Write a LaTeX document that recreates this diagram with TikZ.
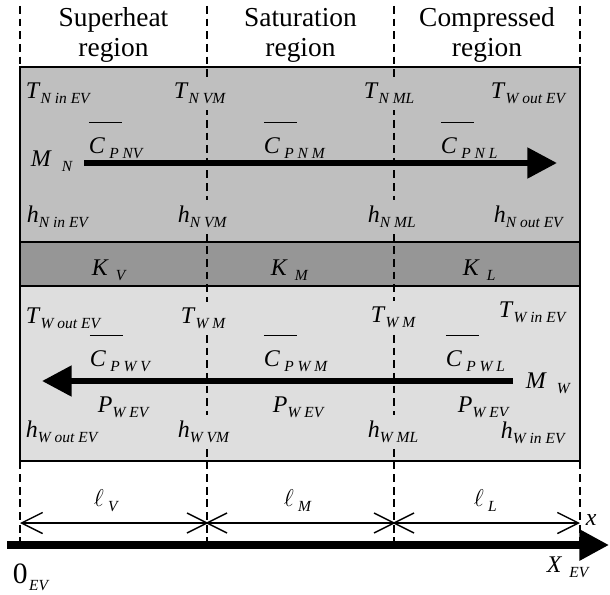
\documentclass[tikz,border=0pt]{standalone}
\usepackage{fontspec}
\setmainfont{Liberation Serif}[ItalicFont={Liberation Serif Italic}]
\usetikzlibrary{arrows.meta}

\definecolor{bandN}{gray}{0.75}
\definecolor{bandK}{gray}{0.59}
\definecolor{bandW}{gray}{0.87}

\begin{document}
\begin{tikzpicture}[x=0.25mm, y=0.25mm,
  lbl/.style={font=\fontsize{17}{17}\selectfont, anchor=base west, inner xsep=0.5pt, inner ysep=4pt},
  lblN/.style={lbl, fill=bandN},
  lblK/.style={lbl, fill=bandK},
  lblW/.style={lbl, fill=bandW},
  hdr/.style={font=\fontsize{19.5}{22}\selectfont, align=center, inner sep=0pt},
  boxline/.style={line width=1.4pt},
  guideline/.style={line width=1pt, dash pattern=on 5.5pt off 3.5pt},
  flowline/.style={line width=4.3pt, -{Triangle[length=21pt,width=21pt]}},
  dimline/.style={line width=1pt, {Straight Barb[length=15pt,width=15pt]}-{Straight Barb[length=15pt,width=15pt]}}]

\useasboundingbox (0,0) rectangle (610,594);

% symbol with lowered subscript: #1=kern, #2=symbol, #3=subscript
\newcommand{\subfont}{\fontsize{11}{11}\selectfont}
\newcommand{\qv}[3][0pt]{\textit{#2}\kern#1\raisebox{-0.25em}{\subfont\textit{#3}}}
\newcommand{\cbar}{\rlap{\raisebox{1.25em}{\rule{1.4em}{1.1pt}}}\textit{C}}

% ── Bands ──
\fill[bandN] (20,527) rectangle (580,352);
\fill[bandK] (20,352) rectangle (580,308);
\fill[bandW] (20,308) rectangle (580,133);

% Region boundaries
\foreach \x in {20,207,394,580} {
  \draw[guideline] (\x,588) -- (\x,46);
}

% ── Region headers ──
\node[hdr, anchor=base] (hdrV) at (113.5,537) {Superheat\\region};
\node[hdr, anchor=base] (hdrM) at (300.5,537) {Saturation\\region};
\node[hdr, anchor=base] (hdrL) at (487,537) {Compressed\\region};

% ── N side (top band) ──
\node[lblN] (tNin) at (25,496) {\qv{T}{N in EV}};
\node[lblN] (tNVM) at (173,496) {\qv{T}{N VM}};
\node[lblN] (tNML) at (363,496) {\qv{T}{N ML}};
\node[lblN] (tWout) at (490,496) {\qv{T}{W out EV}};
\node[lblN] (cNV) at (88,441) {\qv[3pt]{\cbar}{P NV}};
\node[lblN] (cNM) at (263,441) {\qv[3pt]{\cbar}{P N M}};
\node[lblN] (cNL) at (440,441) {\qv[3pt]{\cbar}{P N L}};
\node[lblN] (mN) at (30,428) {\qv[7pt]{M}{N}};
\node[lblN] (hNin) at (26,372) {\qv{h}{N in EV}};
\node[lblN] (hNVM) at (177,372) {\qv{h}{N VM}};
\node[lblN] (hNML) at (367,372) {\qv{h}{N ML}};
\node[lblN] (hNout) at (493,372) {\qv{h}{N out EV}};

% ── Wall band ──
\node[lblK] (kV) at (91,319) {\qv[5pt]{K}{V}};
\node[lblK] (kM) at (270,319) {\qv[5pt]{K}{M}};
\node[lblK] (kL) at (462,319) {\qv[5pt]{K}{L}};

% ── W side (lower band) ──
\node[lblW] (tWoutB) at (25,271) {\qv{T}{W out EV}};
\node[lblW] (tWM) at (180,271) {\qv{T}{W M}};
\node[lblW] (tWMb) at (370,272) {\qv{T}{W M}};
\node[lblW] (tWin) at (498,277) {\qv{T}{W in EV}};
\node[lblW] (cWV) at (89,228) {\qv[3pt]{\cbar}{P W V}};
\node[lblW] (cWM) at (263,228) {\qv[3pt]{\cbar}{P W M}};
\node[lblW] (cWL) at (445,228) {\qv[3pt]{\cbar}{P W L}};
\node[lblW] (mW) at (525,206) {\qv[7pt]{M}{W}};
\node[lblW] (pV) at (97,182) {\qv{P}{W EV}};
\node[lblW] (pM) at (272,182) {\qv{P}{W EV}};
\node[lblW] (pL) at (457,182) {\qv{P}{W EV}};
\node[lblW] (hWout) at (25,157) {\qv{h}{W out EV}};
\node[lblW] (hWVM) at (177,157) {\qv{h}{W VM}};
\node[lblW] (hWML) at (367,157) {\qv{h}{W ML}};
\node[lblW] (hWin) at (500,156) {\qv{h}{W in EV}};

% Band borders
\draw[boxline] (20,527) rectangle (580,133);
\draw[boxline] (20,352) -- (580,352);
\draw[boxline] (20,308) -- (580,308);

% ── Flows ──
\coordinate (nIn) at (84,431);
\coordinate (nOut) at (557,431);
\draw[flowline] (nIn) -- (nOut);
\coordinate (wIn) at (513,213);
\coordinate (wOut) at (42,213);
\draw[flowline] (wIn) -- (wOut);

% ── Lengths ──
\coordinate (d0) at (20,71);
\coordinate (d1) at (207,71);
\coordinate (d2) at (394,71);
\coordinate (d3) at (580,71);
\draw[dimline] (d0) -- (d3);
\foreach \c in {d1,d2} {
  \draw[line width=1pt] (\c) +(-20,-10) -- +(20,10) (\c) +(-20,10) -- +(20,-10);
}
\node[lbl] (lV) at (93,88) {\qv[3pt]{$\ell$}{V}};
\node[lbl] (lM) at (283,88) {\qv[3pt]{$\ell$}{M}};
\node[lbl] (lL) at (473,88) {\qv[3pt]{$\ell$}{L}};
\node[lbl] (xlab) at (585,69) {\textit{x}};

% ── Axis ──
\coordinate (ax0) at (7,49);
\coordinate (ax1) at (609,49);
\draw[line width=5pt, -{Triangle[length=21pt,width=21pt]}] (ax0) -- (ax1);
\node[lbl] (orig) at (12,11) {{\fontsize{21}{21}\selectfont 0}\kern1pt\raisebox{-0.3em}{\subfont\textit{EV}}};
\node[lbl] (xev) at (546,22) {\qv[5pt]{X}{EV}};

\end{tikzpicture}
\end{document}
